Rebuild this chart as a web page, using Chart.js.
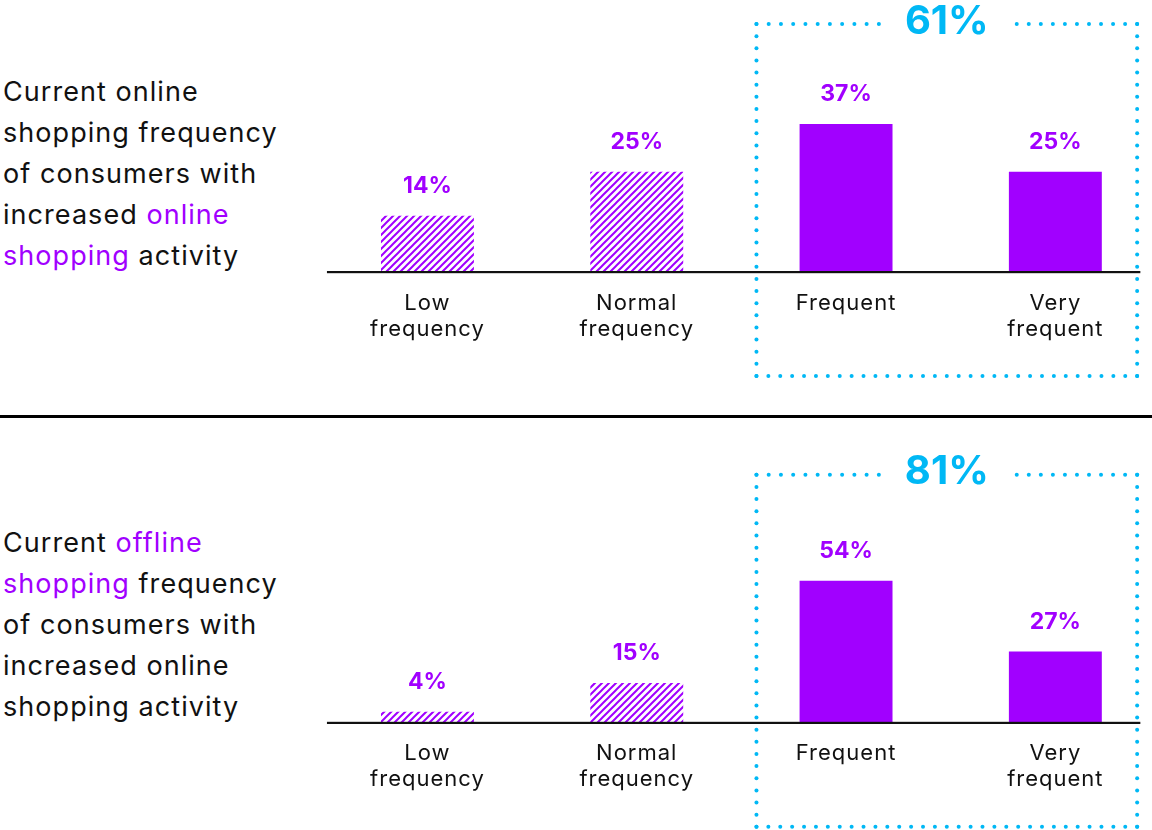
<!DOCTYPE html>
<html>
<head>
<meta charset="utf-8">
<script src="https://cdn.jsdelivr.net/npm/chart.js@4.4.1/dist/chart.umd.min.js"></script>
<style>
  html, body { margin: 0; padding: 0; background: #fff; width: 1152px; height: 830px; overflow: hidden; }
  body { position: relative; font-family: Inter, "Noto Sans", sans-serif; color: #111; }
  .side { position: absolute; left: 3px; font-size: 27px; line-height: 41px; letter-spacing: 1.05px; }
  .hl { color: #A100FF; }
  .divider { position: absolute; left: 0; top: 415px; width: 1152px; height: 3px; background: #000; }
  canvas { position: absolute; left: 0; }
</style>
</head>
<body>
<div class="side" style="top:71px">Current online<br>shopping frequency<br>of consumers with<br>increased <span class="hl">online</span><br><span class="hl">shopping</span> activity</div>
<div class="side" style="top:522px">Current <span class="hl">offline</span><br><span class="hl">shopping</span> frequency<br>of consumers with<br>increased online<br>shopping activity</div>
<div class="divider"></div>
<canvas id="c1" width="1170" height="415" style="top:0"></canvas>
<canvas id="c2" width="1170" height="413" style="top:417px"></canvas>
<script>
const categories = [['Low', 'frequency'], ['Normal', 'frequency'], 'Frequent', ['Very', 'frequent']];
const onlineValues = [14, 25, 37, 25];
const offlineValues = [4, 15, 54, 27];
const onlineTotalLabel = '61%';
const offlineTotalLabel = '81%';
const hatched = [true, true, false, false];

const PURPLE = '#A100FF';
const BLUE = '#00B8F5';
const FONT = 'Inter, "Noto Sans", sans-serif';

function makeHatch() {
  const s = 7;
  const c = document.createElement('canvas');
  c.width = s; c.height = s;
  const g = c.getContext('2d');
  g.strokeStyle = PURPLE;
  g.lineWidth = 2;
  g.lineCap = 'square';
  for (const off of [-s, 0, s]) {
    g.beginPath();
    g.moveTo(off, s);
    g.lineTo(off + s, 0);
    g.stroke();
  }
  return g.createPattern(c, 'repeat');
}

function dotLine(ctx, x1, y1, x2, y2) {
  const len = Math.hypot(x2 - x1, y2 - y1);
  const n = Math.max(1, Math.round(len / 12));
  for (let i = 0; i <= n; i++) {
    const x = x1 + (x2 - x1) * i / n;
    const y = y1 + (y2 - y1) * i / n;
    ctx.beginPath();
    ctx.arc(x, y, 2, 0, Math.PI * 2);
    ctx.fill();
  }
}

const spacing = {
  id: 'spacing',
  beforeDraw(chart) { chart.ctx.letterSpacing = '1px'; }
};

const decor = {
  id: 'decor',
  afterDatasetsDraw(chart, args, opts) {
    const ctx = chart.ctx;
    const xs = chart.scales.x;
    const base = chart.chartArea.bottom;
    ctx.save();
    ctx.letterSpacing = '0px';
    // baseline
    ctx.fillStyle = '#111';
    const bl = xs.getPixelForValue(0) - 100.5;
    const br = xs.getPixelForValue(3) + 85;
    ctx.fillRect(bl, base - 0.5, br - bl, 2.2);
    // value labels
    const meta = chart.getDatasetMeta(0);
    ctx.fillStyle = PURPLE;
    ctx.font = 'bold 23px ' + FONT;
    ctx.textAlign = 'center';
    ctx.textBaseline = 'middle';
    meta.data.forEach((bar, i) => {
      const v = chart.data.datasets[0].data[i];
      ctx.fillText(v + '%', bar.x, bar.y - 29.5);
    });
    // dotted box
    const left = xs.getPixelForValue(2) - 89.6;
    const right = xs.getPixelForValue(3) + 81.8;
    const top = base - 247.5;
    const bottom = base + 104.5;
    ctx.font = 'bold 40px ' + FONT;
    const label = opts.total;
    const tw = ctx.measureText(label).width;
    const cx = (left + right) / 2;
    ctx.fillStyle = BLUE;
    ctx.fillText(label, cx, top - 2.5);
    const g1 = cx - tw / 2 - 26;
    const g2 = cx + tw / 2 + 28;
    dotLine(ctx, left, top, g1, top);
    dotLine(ctx, g2, top, right, top);
    dotLine(ctx, left, top, left, bottom);
    dotLine(ctx, right, top, right, bottom);
    dotLine(ctx, left, bottom, right, bottom);
    ctx.restore();
  }
};

function build(id, values, yMax, padTop, axisH, total) {
  const hatch = makeHatch();
  return new Chart(document.getElementById(id), {
    type: 'bar',
    data: {
      labels: categories,
      datasets: [{
        data: values,
        backgroundColor: values.map((v, i) => hatched[i] ? hatch : PURPLE),
        borderWidth: 0,
        barPercentage: 0.444,
        categoryPercentage: 1
      }]
    },
    options: {
      responsive: false,
      animation: false,
      layout: { padding: { left: 322.8, right: 10, top: padTop, bottom: 0 } },
      plugins: { legend: { display: false }, tooltip: { enabled: false }, decor: { total: total } },
      scales: {
        x: {
          grid: { display: false, drawTicks: false },
          border: { display: false },
          ticks: { color: '#111', font: { family: FONT, size: 22, lineHeight: 1.18 }, padding: 18.5, maxRotation: 0, autoSkip: false },
          afterFit: s => { s.height = axisH; }
        },
        y: { display: false, min: 0, max: yMax }
      }
    },
    plugins: [spacing, decor]
  });
}

build('c1', onlineValues, 40, 112, 415 - 271.5, onlineTotalLabel);
build('c2', offlineValues, 60, 148, 413 - 305.3, offlineTotalLabel);
</script>
</body>
</html>
